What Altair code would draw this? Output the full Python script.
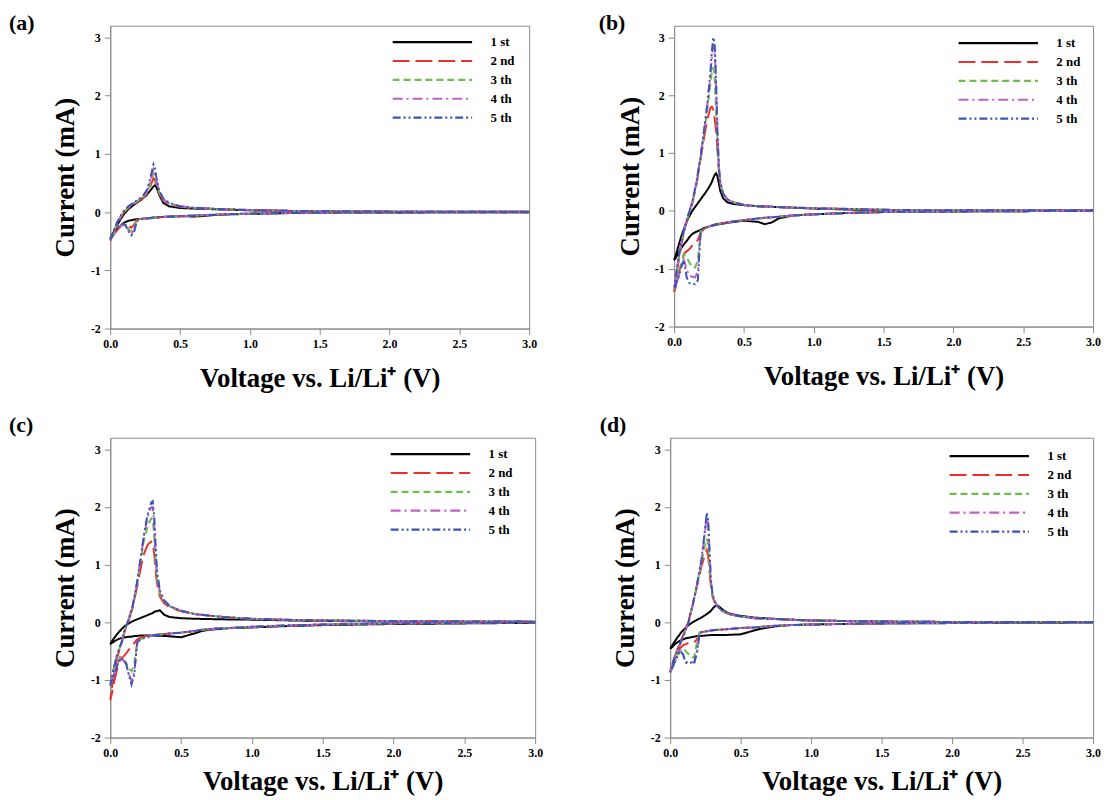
import altair as alt
import pandas as pd

FONT = "Liberation Serif"
CYCLES = ["1 st", "2 nd", "3 th", "4 th", "5 th"]
COLORS = ["#000000", "#e8302c", "#6cbf4a", "#c05fc8", "#3a55b8"]
DASHES = [[1, 0], [17, 6], [7, 4], [10, 4, 2, 4], [8, 3, 2, 3, 2, 3]]
PANEL_LABELS = ["(a)", "(b)", "(c)", "(d)"]
X_TICKS = [0.0, 0.5, 1.0, 1.5, 2.0, 2.5, 3.0]
Y_TICKS = [-2, -1, 0, 1, 2, 3]
X_TITLE = "Voltage vs. Li/Li\u207a (V)"
Y_TITLE = "Current (mA)"

# voltage grid of the cathodic sweep (3.0 V -> 0.0 V) and anodic sweep (0.0 V -> 3.0 V)
VC = [3.0, 2.5, 2.0, 1.5, 1.2, 1.0, 0.85, 0.75, 0.7, 0.65, 0.6, 0.5, 0.4, 0.3, 0.25, 0.21,
      0.19, 0.17, 0.15, 0.13, 0.11, 0.09, 0.07, 0.05, 0.03, 0.01, 0.0]
VA = [0.0, 0.02, 0.05, 0.08, 0.1, 0.13, 0.16, 0.19, 0.22, 0.24, 0.26, 0.27, 0.28, 0.29, 0.3,
      0.31, 0.32, 0.33, 0.35, 0.38, 0.42, 0.5, 0.6, 0.8, 1.0, 1.3, 1.6, 2.0, 2.5, 3.0]

# ---- panel (a) currents (mA)
A1_C = [-0.003, -0.004, -0.006, -0.01, -0.02, -0.03, -0.04, -0.05, -0.06, -0.07, -0.075, -0.07, -0.08, -0.095, -0.11, -0.12, -0.12, -0.13, -0.14, -0.15, -0.17, -0.2, -0.24, -0.29, -0.35, -0.42, -0.45]
A1_A = [-0.45, -0.36, -0.22, -0.1, -0.03, 0.05, 0.11, 0.16, 0.21, 0.25, 0.29, 0.32, 0.35, 0.38, 0.41, 0.44, 0.46, 0.43, 0.3, 0.16, 0.1, 0.07, 0.06, 0.045, 0.03, 0.02, 0.012, 0.008, 0.005, 0.004]
A2_C = [-0.003, -0.004, -0.006, -0.01, -0.018, -0.028, -0.035, -0.045, -0.05, -0.055, -0.06, -0.07, -0.08, -0.1, -0.11, -0.12, -0.13, -0.22, -0.27, -0.24, -0.2, -0.22, -0.26, -0.31, -0.37, -0.45, -0.5]
A2_A = [-0.5, -0.38, -0.2, -0.07, 0.0, 0.07, 0.12, 0.17, 0.22, 0.26, 0.31, 0.35, 0.4, 0.46, 0.53, 0.58, 0.55, 0.45, 0.32, 0.2, 0.13, 0.09, 0.07, 0.05, 0.035, 0.02, 0.012, 0.008, 0.005, 0.004]
A3_C = [-0.003, -0.004, -0.006, -0.01, -0.018, -0.027, -0.034, -0.044, -0.05, -0.055, -0.06, -0.07, -0.08, -0.1, -0.11, -0.12, -0.14, -0.28, -0.33, -0.29, -0.22, -0.22, -0.25, -0.3, -0.36, -0.44, -0.48]
A3_A = [-0.48, -0.36, -0.19, -0.06, 0.01, 0.08, 0.13, 0.18, 0.23, 0.27, 0.33, 0.38, 0.44, 0.52, 0.6, 0.66, 0.62, 0.5, 0.34, 0.21, 0.14, 0.1, 0.07, 0.05, 0.035, 0.02, 0.012, 0.008, 0.005, 0.004]
A4_C = [-0.003, -0.004, -0.006, -0.01, -0.018, -0.027, -0.034, -0.044, -0.05, -0.055, -0.06, -0.07, -0.08, -0.1, -0.11, -0.12, -0.15, -0.32, -0.37, -0.31, -0.22, -0.21, -0.24, -0.29, -0.35, -0.43, -0.47]
A4_A = [-0.47, -0.35, -0.18, -0.05, 0.02, 0.09, 0.14, 0.19, 0.24, 0.28, 0.35, 0.41, 0.48, 0.57, 0.66, 0.74, 0.69, 0.55, 0.36, 0.22, 0.15, 0.1, 0.075, 0.05, 0.035, 0.02, 0.012, 0.008, 0.005, 0.004]
A5_C = [-0.003, -0.004, -0.006, -0.01, -0.018, -0.027, -0.034, -0.044, -0.05, -0.055, -0.06, -0.07, -0.08, -0.1, -0.11, -0.12, -0.16, -0.35, -0.4, -0.33, -0.23, -0.2, -0.23, -0.28, -0.35, -0.43, -0.47]
A5_A = [-0.47, -0.34, -0.17, -0.04, 0.03, 0.1, 0.15, 0.2, 0.25, 0.3, 0.37, 0.44, 0.52, 0.62, 0.72, 0.82, 0.76, 0.6, 0.38, 0.23, 0.16, 0.1, 0.075, 0.05, 0.035, 0.02, 0.012, 0.008, 0.005, 0.004]

# ---- panel (b)
B1_C = [0.0, -0.005, -0.01, -0.02, -0.04, -0.06, -0.08, -0.13, -0.2, -0.23, -0.19, -0.17, -0.2, -0.24, -0.27, -0.3, -0.33, -0.35, -0.37, -0.4, -0.45, -0.52, -0.58, -0.65, -0.73, -0.82, -0.85]
B1_A = [-0.85, -0.7, -0.45, -0.25, -0.13, 0.0, 0.1, 0.2, 0.3, 0.37, 0.45, 0.5, 0.56, 0.62, 0.65, 0.6, 0.48, 0.35, 0.22, 0.15, 0.12, 0.1, 0.08, 0.06, 0.04, 0.02, 0.01, 0.005, 0.005, 0.01]
B2_C = [0.0, -0.005, -0.01, -0.02, -0.04, -0.06, -0.08, -0.1, -0.11, -0.12, -0.13, -0.16, -0.19, -0.23, -0.27, -0.32, -0.38, -0.5, -0.57, -0.6, -0.66, -0.7, -0.74, -0.92, -1.12, -1.33, -1.4]
B2_A = [-1.4, -1.05, -0.6, -0.28, -0.1, 0.13, 0.45, 0.9, 1.35, 1.6, 1.78, 1.8, 1.75, 1.6, 1.4, 1.05, 0.7, 0.45, 0.3, 0.2, 0.15, 0.1, 0.08, 0.06, 0.045, 0.03, 0.015, 0.01, 0.01, 0.01]
B3_C = [0.0, -0.005, -0.01, -0.02, -0.04, -0.06, -0.08, -0.1, -0.11, -0.12, -0.13, -0.16, -0.19, -0.23, -0.27, -0.32, -0.35, -0.85, -0.98, -0.97, -0.9, -0.8, -0.75, -0.95, -1.12, -1.3, -1.35]
B3_A = [-1.35, -1.02, -0.57, -0.26, -0.09, 0.14, 0.48, 0.93, 1.45, 1.8, 2.2, 2.4, 2.48, 2.3, 1.75, 1.2, 0.75, 0.48, 0.3, 0.2, 0.15, 0.1, 0.08, 0.06, 0.045, 0.03, 0.015, 0.01, 0.01, 0.01]
B4_C = [0.0, -0.005, -0.01, -0.02, -0.04, -0.06, -0.08, -0.1, -0.11, -0.12, -0.13, -0.16, -0.19, -0.23, -0.27, -0.31, -0.35, -1.05, -1.15, -1.14, -1.12, -1.02, -0.85, -0.97, -1.15, -1.3, -1.35]
B4_A = [-1.35, -1.0, -0.56, -0.25, -0.08, 0.15, 0.49, 0.94, 1.48, 1.88, 2.35, 2.65, 2.85, 2.8, 2.2, 1.4, 0.8, 0.5, 0.31, 0.2, 0.15, 0.1, 0.08, 0.06, 0.045, 0.03, 0.015, 0.01, 0.01, 0.01]
B5_C = [0.0, -0.005, -0.01, -0.02, -0.04, -0.06, -0.08, -0.1, -0.11, -0.12, -0.13, -0.16, -0.19, -0.23, -0.27, -0.31, -0.35, -1.2, -1.27, -1.25, -1.25, -1.15, -0.85, -0.98, -1.15, -1.3, -1.35]
B5_A = [-1.35, -1.0, -0.55, -0.25, -0.08, 0.15, 0.5, 0.95, 1.5, 1.9, 2.4, 2.75, 3.0, 2.9, 2.3, 1.4, 0.8, 0.5, 0.3, 0.2, 0.15, 0.1, 0.08, 0.06, 0.045, 0.03, 0.015, 0.01, 0.01, 0.01]

# ---- panel (c)
C1_C = [-0.01, -0.02, -0.03, -0.05, -0.07, -0.09, -0.1, -0.12, -0.13, -0.15, -0.19, -0.26, -0.24, -0.23, -0.23, -0.23, -0.24, -0.24, -0.25, -0.25, -0.26, -0.27, -0.28, -0.3, -0.33, -0.36, -0.38]
C1_A = [-0.38, -0.3, -0.2, -0.12, -0.07, -0.02, 0.02, 0.05, 0.08, 0.1, 0.12, 0.13, 0.14, 0.15, 0.16, 0.18, 0.19, 0.19, 0.21, 0.13, 0.09, 0.07, 0.06, 0.05, 0.045, 0.03, 0.02, 0.01, 0.01, 0.01]
C2_C = [0.0, -0.01, -0.02, -0.04, -0.06, -0.08, -0.1, -0.11, -0.12, -0.13, -0.15, -0.18, -0.2, -0.22, -0.24, -0.27, -0.3, -0.36, -0.42, -0.48, -0.55, -0.6, -0.65, -0.8, -1.0, -1.25, -1.35]
C2_A = [-1.35, -1.0, -0.6, -0.36, -0.17, 0.03, 0.27, 0.62, 1.0, 1.2, 1.32, 1.36, 1.38, 1.4, 1.38, 1.2, 0.9, 0.68, 0.45, 0.33, 0.26, 0.19, 0.14, 0.09, 0.06, 0.04, 0.03, 0.02, 0.015, 0.01]
C3_C = [0.0, -0.01, -0.02, -0.04, -0.06, -0.08, -0.1, -0.11, -0.12, -0.13, -0.15, -0.18, -0.2, -0.23, -0.26, -0.3, -0.35, -0.72, -0.85, -0.8, -0.7, -0.63, -0.6, -0.72, -0.88, -1.02, -1.08]
C3_A = [-1.08, -0.84, -0.55, -0.35, -0.15, 0.05, 0.3, 0.68, 1.15, 1.45, 1.62, 1.7, 1.76, 1.8, 1.78, 1.5, 1.05, 0.75, 0.5, 0.36, 0.27, 0.2, 0.14, 0.09, 0.06, 0.04, 0.03, 0.02, 0.015, 0.01]
C4_C = [0.0, -0.01, -0.02, -0.04, -0.06, -0.08, -0.1, -0.11, -0.12, -0.13, -0.15, -0.18, -0.2, -0.23, -0.26, -0.3, -0.35, -0.85, -1.02, -0.88, -0.72, -0.66, -0.62, -0.74, -0.89, -1.03, -1.1]
C4_A = [-1.1, -0.85, -0.55, -0.35, -0.15, 0.05, 0.3, 0.7, 1.2, 1.52, 1.78, 1.88, 1.95, 2.0, 2.0, 1.7, 1.2, 0.82, 0.54, 0.38, 0.28, 0.2, 0.14, 0.09, 0.06, 0.04, 0.03, 0.02, 0.015, 0.01]
C5_C = [0.0, -0.01, -0.02, -0.04, -0.06, -0.08, -0.1, -0.11, -0.12, -0.13, -0.15, -0.18, -0.2, -0.23, -0.26, -0.3, -0.35, -0.9, -1.08, -0.9, -0.7, -0.65, -0.62, -0.75, -0.9, -1.05, -1.1]
C5_A = [-1.1, -0.85, -0.55, -0.35, -0.15, 0.05, 0.3, 0.7, 1.2, 1.55, 1.82, 1.92, 2.0, 2.08, 2.1, 1.85, 1.35, 0.9, 0.55, 0.38, 0.28, 0.2, 0.14, 0.09, 0.06, 0.04, 0.03, 0.02, 0.015, 0.01]

# ---- panel (d)
D1_C = [-0.005, -0.01, -0.015, -0.02, -0.03, -0.04, -0.05, -0.07, -0.09, -0.11, -0.14, -0.21, -0.22, -0.22, -0.23, -0.24, -0.24, -0.25, -0.26, -0.27, -0.28, -0.3, -0.32, -0.35, -0.39, -0.44, -0.46]
D1_A = [-0.46, -0.38, -0.27, -0.17, -0.12, -0.05, 0.0, 0.04, 0.08, 0.11, 0.14, 0.16, 0.18, 0.2, 0.23, 0.26, 0.28, 0.3, 0.27, 0.2, 0.15, 0.11, 0.08, 0.05, 0.03, 0.02, 0.01, 0.005, 0.005, 0.005]
D2_C = [0.0, -0.005, -0.01, -0.02, -0.03, -0.04, -0.05, -0.06, -0.07, -0.08, -0.09, -0.1, -0.12, -0.14, -0.16, -0.18, -0.3, -0.35, -0.35, -0.36, -0.38, -0.4, -0.45, -0.55, -0.65, -0.8, -0.85]
D2_A = [-0.85, -0.68, -0.48, -0.3, -0.18, 0.02, 0.3, 0.62, 0.95, 1.12, 1.25, 1.15, 0.85, 0.6, 0.45, 0.38, 0.33, 0.3, 0.24, 0.18, 0.14, 0.1, 0.07, 0.05, 0.03, 0.02, 0.01, 0.005, 0.005, 0.005]
D3_C = [0.0, -0.005, -0.01, -0.02, -0.03, -0.04, -0.05, -0.06, -0.07, -0.08, -0.09, -0.1, -0.12, -0.14, -0.16, -0.18, -0.35, -0.62, -0.6, -0.55, -0.5, -0.45, -0.5, -0.6, -0.7, -0.82, -0.87]
D3_A = [-0.87, -0.7, -0.5, -0.31, -0.19, 0.01, 0.3, 0.64, 1.0, 1.25, 1.45, 1.35, 0.95, 0.65, 0.48, 0.39, 0.34, 0.3, 0.24, 0.18, 0.14, 0.1, 0.07, 0.05, 0.03, 0.02, 0.01, 0.005, 0.005, 0.005]
D4_C = [0.0, -0.005, -0.01, -0.02, -0.03, -0.04, -0.05, -0.06, -0.07, -0.08, -0.09, -0.1, -0.12, -0.14, -0.16, -0.18, -0.55, -0.7, -0.69, -0.7, -0.68, -0.55, -0.5, -0.6, -0.7, -0.82, -0.87]
D4_A = [-0.87, -0.7, -0.5, -0.32, -0.2, 0.0, 0.3, 0.65, 1.05, 1.42, 1.85, 1.7, 1.15, 0.7, 0.5, 0.4, 0.34, 0.3, 0.24, 0.18, 0.14, 0.1, 0.07, 0.05, 0.03, 0.02, 0.01, 0.005, 0.005, 0.005]
D5_C = [0.0, -0.005, -0.01, -0.02, -0.03, -0.04, -0.05, -0.06, -0.07, -0.08, -0.09, -0.1, -0.12, -0.14, -0.16, -0.18, -0.5, -0.72, -0.7, -0.72, -0.7, -0.55, -0.5, -0.6, -0.7, -0.82, -0.87]
D5_A = [-0.87, -0.7, -0.5, -0.32, -0.2, 0.0, 0.3, 0.65, 1.05, 1.45, 1.9, 1.75, 1.2, 0.7, 0.5, 0.4, 0.34, 0.3, 0.24, 0.18, 0.14, 0.1, 0.07, 0.05, 0.03, 0.02, 0.01, 0.005, 0.005, 0.005]


def loops(cath, anod):
    rows = []
    for k, (c_vals, a_vals) in enumerate(zip(cath, anod)):
        assert len(c_vals) == len(VC) and len(a_vals) == len(VA)
        i = 0
        for v, cur in list(zip(VC, c_vals)) + list(zip(VA, a_vals)):
            rows.append({"V": v, "I": cur, "cycle": CYCLES[k], "idx": i})
            i += 1
    return pd.DataFrame(rows)


def panel(df, label, w, h, lab_x, lab_y, leg_x, leg_y, title_x, xtitle_y):
    legend = alt.Legend(
        title=None, orient="none", legendX=leg_x, legendY=leg_y, padding=0,
        symbolType="M-5,0H5", symbolSize=256, symbolStrokeWidth=2.2,
        labelFont=FONT, labelFontWeight="bold", labelFontSize=13, labelColor="#000000",
        labelOffset=49, rowPadding=2,
    )
    lines = alt.Chart(df).mark_line(strokeWidth=2).encode(
        x=alt.X("V:Q", scale=alt.Scale(domain=[0, 3], nice=False, zero=False),
                axis=alt.Axis(values=X_TICKS, format=".1f", labelFlush=False, title=X_TITLE,
                              titleFontSize=27, titleY=xtitle_y, titleBaseline="alphabetic")),
        y=alt.Y("I:Q", scale=alt.Scale(domain=[-2, 3.2], nice=False, zero=False),
                axis=alt.Axis(values=Y_TICKS, labelExpr="'' + datum.value", title=Y_TITLE,
                              titleFontSize=27, titleAngle=270, titleX=title_x, titleY=h / 2,
                              titleBaseline="alphabetic", titleAlign="center")),
        color=alt.Color("cycle:N", scale=alt.Scale(domain=CYCLES, range=COLORS), legend=legend),
        strokeDash=alt.StrokeDash("cycle:N", scale=alt.Scale(domain=CYCLES, range=DASHES), legend=legend),
        order="idx:Q",
    )
    lab = alt.Chart(pd.DataFrame({"lab": [label]})).mark_text(
        align="left", baseline="top", font=FONT, fontSize=22, fontWeight="bold", color="#000000"
    ).encode(text="lab:N", x=alt.value(lab_x), y=alt.value(lab_y))
    return alt.layer(lines, lab).properties(width=w, height=h)


pa = panel(loops([A1_C, A2_C, A3_C, A4_C, A5_C], [A1_A, A2_A, A3_A, A4_A, A5_A]), PANEL_LABELS[0],
           422, 305, -102, -13, 315, 7, -37, 58)
pb = panel(loops([B1_C, B2_C, B3_C, B4_C, B5_C], [B1_A, B2_A, B3_A, B4_A, B5_A]), PANEL_LABELS[1],
           422, 303, -76, -13, 317, 8, -36, 58)
pc = panel(loops([C1_C, C2_C, C3_C, C4_C, C5_C], [C1_A, C2_A, C3_A, C4_A, C5_A]), PANEL_LABELS[2],
           428, 302, -102, -23, 313, 7, -37, 52)
pd_ = panel(loops([D1_C, D2_C, D3_C, D4_C, D5_C], [D1_A, D2_A, D3_A, D4_A, D5_A]), PANEL_LABELS[3],
            426, 302, -71, -23, 312, 9, -37, 52)

row1 = alt.hconcat(pa, pb, spacing=61).resolve_scale(color="independent", strokeDash="independent").resolve_legend(color="independent", strokeDash="independent")
row2 = alt.hconcat(pc, pd_, spacing=56).resolve_scale(color="independent", strokeDash="independent").resolve_legend(color="independent", strokeDash="independent")

chart = alt.vconcat(row1, row2, spacing=21).resolve_scale(
    color="independent", strokeDash="independent"
).resolve_legend(color="independent", strokeDash="independent").properties(
    padding={"left": 0, "top": 0, "right": 0, "bottom": 0}
).configure_view(
    stroke="#8a8a8a", strokeWidth=1
).configure_axis(
    grid=False, domainColor="#8a8a8a", tickColor="#8a8a8a", tickSize=6, labelPadding=4,
    labelFont=FONT, labelFontSize=12, labelFontWeight="bold", labelColor="#000000",
    titleFont=FONT, titleFontWeight="bold", titleColor="#000000",
)

chart.save("out.html", embed_options={"renderer": "svg", "actions": False})
